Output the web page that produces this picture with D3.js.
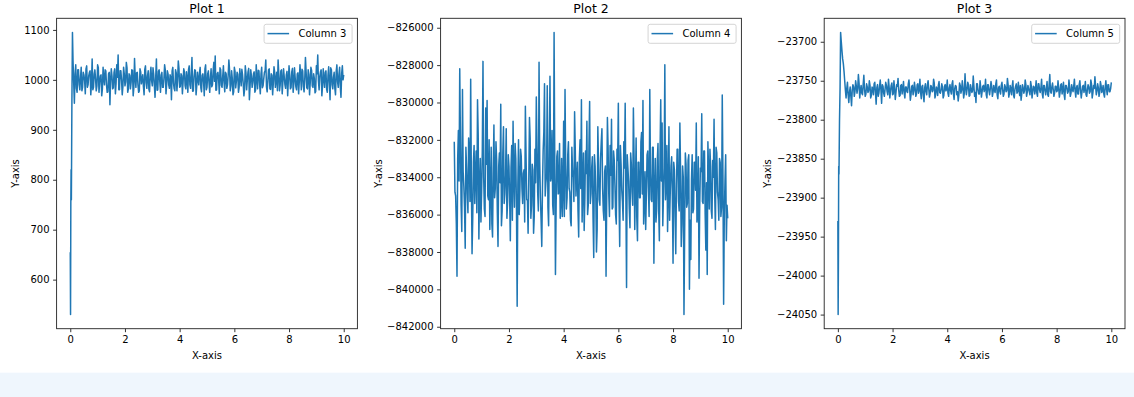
<!DOCTYPE html>
<html>
<head>
<meta charset="utf-8">
<script src="https://cdn.jsdelivr.net/npm/d3@7"></script>
<style>
  body { margin: 0; background: #fff; }
  svg { display: block; font-family: "DejaVu Sans", sans-serif; }
</style>
</head>
<body>
<svg width="1134" height="397"></svg>
<script>
// x positions: fine steps during the start-up transient, then every 0.05,
// plus "mid" samples that sit halfway between the regular ones
const headX = [0, 0.01, 0.02, 0.03, 0.04, 0.06, 0.08];
const xStep = 0.05;

const titles = ["Plot 1", "Plot 2", "Plot 3"];
const seriesNames = ["Column 3", "Column 4", "Column 5"];

// Column 3: head values at headX, then body from x = 0.10
const col3Head = [655, 530, 750, 820, 760, 960, 1095];
const col3Body = [
  1040, 953, 1030, 975, 1020, 980, 1025, 985, 1010, 972,
  1028, 990, 1015, 970, 1042, 985, 1020, 978, 1030, 975,
  1008, 968, 1025, 990, 1018, 975, 1012, 950, 1022, 982,
  1015, 972, 1030, 1050, 980, 1018, 970, 1025, 988, 1035,
  975, 1012, 982, 1020, 968, 1043, 985, 1015, 975, 1022,
  992, 1010, 970, 1028, 983, 1018, 976, 1025, 988, 1012,
  965, 1042, 980, 1020, 975, 1015, 985, 1030, 972, 1018,
  990, 1010, 960, 1025, 982, 1020, 978, 1038, 985, 1012,
  972, 1022, 988, 1016, 975, 1028, 983, 1045, 978, 1020,
  970, 1015, 990, 1025, 976, 1012, 968, 1030, 985, 1018,
  975, 1022, 990, 1035, 1048, 980, 1015, 972, 1020, 985,
  1028, 976, 1012, 990, 1040, 978, 1018, 970, 1025, 984,
  1015, 975, 1022, 988, 1010, 968, 1028, 980, 1016, 960,
  1020, 985, 1012, 975, 1030, 982, 1018, 972, 1025, 988,
  1015, 1040, 976, 1020, 982, 1012, 970, 1026, 985, 1015,
  1040, 978, 1018, 972, 1022, 990, 1010, 968, 1028, 982,
  1016, 975, 1024, 986, 1012, 972, 1030, 980, 1018, 976,
  1045, 984, 1020, 970, 1025, 988, 1012, 974, 1028, 1050,
  980, 1016, 968, 1022, 985, 1018, 975, 1026, 960, 1020,
  982, 1015, 970, 1030, 985, 1025, 965, 1028, 1010
];
// Column 3 mid samples from x = 0.125
const col3Mid = [
  995, 1012, 983, 1020, 990, 1005, 978, 1015, 998, 1022,
  985, 1008, 1018, 992, 980, 1012, 1002, 988, 1025, 995,
  1010, 982, 1003, 1020, 990, 976, 1015, 999, 1008, 984,
  1022, 993, 1005, 980, 1018, 1000, 987, 1012, 996, 1024,
  982, 1009, 995, 1019, 985, 1004, 1014, 990, 978, 1016,
  1001, 987, 1021, 994, 1008, 981, 1013, 998, 1024, 989,
  1006, 979, 1017, 996, 1010, 985, 1002, 1020, 991, 1012,
  983, 1005, 1018, 993, 978, 1014, 999, 1023, 987, 1008,
  995, 1016, 982, 1003, 1021, 990, 1011, 977, 1006, 1019,
  988, 1000, 1015, 984, 1009, 996, 1022, 980, 1012, 993,
  1004, 986, 1018, 997, 979, 1013, 1001, 1024, 989, 1007,
  994, 1015, 983, 1010, 1020, 988, 1003, 976, 1017, 998,
  1011, 985, 1005, 1021, 992, 981, 1014, 1000, 1023, 987,
  1008, 995, 1016, 979, 1004, 1019, 990, 1012, 984, 1002,
  1018, 986, 997, 1022, 981, 1009, 993, 1015, 1001, 978,
  1013, 989, 1020, 996, 1006, 983, 1017, 999, 1010, 985,
  1023, 992, 1004, 980, 1014, 997, 1008, 1021, 987, 1001,
  1016, 982, 1011, 994, 1019, 985, 1003, 977, 1012, 998,
  1007, 1020, 988, 1002, 1015, 981, 1009, 995, 1024, 990,
  1005, 983, 1017, 996, 1011, 986, 1013, 1000
];

// Column 4: every 0.05 from x = 0
const col4 = [
  -832100, -835000, -839300, -831500, -828200, -835500, -829300, -834500, -837800, -833500,
  -835900, -832800, -828750, -838100, -833200, -835400, -832600, -829850, -837300, -833000,
  -834800, -827800, -835700, -830300, -829900, -835200, -836800, -832400, -837200, -831200,
  -834600, -833100, -837700, -832700, -830100, -835800, -831300, -834900, -831400, -835300,
  -833400, -837400, -832300, -831000, -835600, -833000, -840900, -832000, -834700, -832900,
  -835400, -833600, -830200, -835200, -837000, -830800, -836200, -833300, -837000, -832500,
  -829700, -834800, -827850, -835100, -837700, -832600, -829000, -834300, -829100, -836600,
  -828600, -833900, -835500, -826250, -839200, -832900, -834900, -832200, -835300, -836100,
  -831000, -829300, -835700, -832800, -834600, -836300, -832400, -834000, -830500, -835000,
  -833200, -837200, -832000, -829860, -834400, -836850, -832600, -831000, -835500, -829950,
  -834900, -832900, -838300, -833400, -838000, -831300, -835200, -833000, -831400, -835800,
  -833700, -839300, -830800, -834900, -832300, -830900, -835600, -833100, -836000, -832500,
  -830040, -837700, -833300, -835300, -832100, -830040, -839900, -833500, -835700, -832700,
  -834800, -830300, -836800, -831900, -837400, -833200, -835100, -831600, -829900, -835400,
  -836800, -832800, -834600, -829300, -835200, -832400, -838600, -833000, -835800, -832200,
  -837400, -829860, -831100, -835000, -827980, -834300, -836900, -831300, -834700, -832900,
  -838600, -833600, -838100, -832500, -835300, -831100, -837700, -833400, -841350, -832700,
  -835600, -833100, -840000, -838400, -832800, -835700, -833200, -831100, -836000, -839400,
  -833500, -830600, -835400, -832600, -837900, -839200, -833700, -832500, -835800, -833100,
  -830900, -836800, -832700, -835200, -833000, -836100, -829600, -840800, -834200, -837400,
  -836200
];
// Column 4 mid samples from x = 0.025
const col4Mid = [
  -834800, -836500, -833000, -834200, -831800, -836900, -833700, -835600, -832400, -834900,
  -831900, -835300, -834100, -836200, -832300, -833800, -835900, -831700, -834500, -836400,
  -832600, -834000, -836100, -833300, -835000, -832000, -834700, -836500, -833600, -835100,
  -832100, -835900, -833400, -834300, -836600, -832700, -835400, -833900, -836200, -832800,
  -835100, -833500, -836300, -834000, -832200, -835700, -834400, -836000, -832500, -834600,
  -833800, -836400, -832900, -835200, -834100, -831900, -835500, -833600, -836100, -834300,
  -832400, -835800, -833200, -836300, -834600, -831600, -835000, -833900, -835600, -832300,
  -834200, -831500, -836000, -833100, -835500, -832600, -834800, -836200, -833000, -834700,
  -836100, -833400, -835100, -832100, -834800, -836600, -833600, -835300, -832500, -834100,
  -835800, -833000, -834600, -836400, -832700, -835200, -833800, -836000, -832300, -835400,
  -833500, -836200, -832800, -834900, -836800, -833300, -835500, -832100, -834600, -836300,
  -833400, -835000, -832400, -836100, -833900, -835700, -832600, -834400, -836500, -833100,
  -835200, -832300, -834700, -836300, -833500, -835000, -832800, -834200, -836700, -833300,
  -835500, -832900, -834500, -836200, -833200, -835100, -832100, -834900, -836500, -833700,
  -834900, -832600, -836100, -833800, -835300, -832400, -834700, -836400, -833100, -835700,
  -832700, -834200, -836600, -833500, -835200, -832300, -834900, -836300, -833400, -835000,
  -833200, -836100, -834400, -832500, -835800, -833600, -836500, -834000, -836900, -833300,
  -835400, -832800, -836300, -834100, -835900, -833200, -834700, -836400, -832900, -835600,
  -833700, -835300, -832600, -836000, -834300, -832100, -835700, -833400, -836200, -834000,
  -835000, -832400, -834800, -836300, -833200, -835600, -833900, -836000, -832800, -835500
];

// Column 5: head values at headX, then body from x = 0.10
const col5Head = [-23930, -24050, -23980, -23860, -23870, -23800, -23760];
const col5Body = [
  -23688, -23712, -23728, -23750, -23772, -23752, -23778, -23758, -23782, -23755,
  -23770, -23750, -23766, -23742, -23772, -23756, -23768, -23743, -23770, -23754,
  -23765, -23750, -23772, -23758, -23768, -23752, -23780, -23755, -23766, -23749,
  -23779, -23757, -23770, -23752, -23764, -23748, -23772, -23756, -23768, -23750,
  -23774, -23755, -23747, -23770, -23756, -23767, -23751, -23772, -23758, -23765,
  -23749, -23775, -23757, -23768, -23752, -23770, -23755, -23766, -23748, -23773,
  -23756, -23777, -23754, -23768, -23750, -23771, -23756, -23764, -23748, -23772,
  -23758, -23769, -23751, -23766, -23754, -23772, -23757, -23763, -23749, -23770,
  -23755, -23767, -23750, -23774, -23756, -23768, -23776, -23753, -23766, -23750,
  -23772, -23741, -23768, -23752, -23770, -23755, -23765, -23744, -23770, -23778,
  -23754, -23767, -23750, -23771, -23757, -23764, -23748, -23772, -23755, -23768,
  -23751, -23770, -23756, -23765, -23749, -23773, -23757, -23767, -23752, -23770,
  -23755, -23764, -23747, -23771, -23756, -23768, -23750, -23772, -23757, -23766,
  -23752, -23769, -23775, -23755, -23766, -23749, -23770, -23756, -23764, -23751,
  -23772, -23757, -23767, -23750, -23770, -23754, -23765, -23748, -23772, -23756,
  -23768, -23751, -23770, -23742, -23766, -23753, -23770, -23757, -23764, -23750,
  -23771, -23755, -23767, -23752, -23774, -23756, -23766, -23749, -23770, -23755,
  -23764, -23748, -23771, -23756, -23767, -23750, -23772, -23757, -23765, -23751,
  -23770, -23755, -23766, -23749, -23772, -23756, -23745, -23768, -23754, -23770,
  -23751, -23765, -23756, -23771, -23750, -23768, -23755, -23764, -23752
];
// Column 5 mid samples from x = 0.125
const col5Mid = [
  -23700, -23722, -23738, -23762, -23760, -23768, -23765, -23770, -23762, -23758,
  -23764, -23757, -23760, -23753, -23762, -23766, -23755, -23761, -23767, -23758,
  -23763, -23756, -23769, -23760, -23754, -23765, -23759, -23770, -23757, -23762,
  -23755, -23766, -23761, -23756, -23768, -23758, -23763, -23753, -23767, -23760,
  -23765, -23757, -23762, -23769, -23755, -23760, -23766, -23758, -23764, -23754,
  -23761, -23768, -23756, -23763, -23759, -23767, -23754, -23762, -23765, -23757,
  -23769, -23759, -23764, -23755, -23761, -23766, -23758, -23763, -23753, -23768,
  -23760, -23756, -23765, -23762, -23758, -23769, -23755, -23761, -23766, -23759,
  -23763, -23754, -23767, -23760, -23757, -23764, -23768, -23756, -23762, -23759,
  -23766, -23758, -23761, -23755, -23769, -23760, -23763, -23757, -23765, -23754,
  -23762, -23767, -23759, -23764, -23756, -23761, -23768, -23755, -23763, -23760,
  -23757, -23765, -23762, -23754, -23768, -23759, -23764, -23756, -23761, -23767,
  -23758, -23763, -23755, -23766, -23760, -23757, -23769, -23761, -23754, -23764,
  -23762, -23756, -23767, -23759, -23763, -23755, -23765, -23760, -23768, -23757,
  -23764, -23758, -23761, -23766, -23754, -23762, -23759, -23767, -23756, -23763,
  -23760, -23768, -23755, -23764, -23758, -23761, -23766, -23757, -23763, -23759,
  -23765, -23754, -23762, -23768, -23756, -23760, -23764, -23758, -23766, -23761,
  -23757, -23763, -23759, -23767, -23755, -23762, -23765, -23756, -23760, -23768,
  -23761, -23758, -23764, -23754, -23766, -23760, -23757, -23763, -23759, -23765,
  -23756, -23762, -23767, -23758, -23761, -23755, -23764, -23760
];

const xTicks = [0, 2, 4, 6, 8, 10];
const yTicks1 = [600, 700, 800, 900, 1000, 1100];
const yTicks2 = [-842000, -840000, -838000, -836000, -834000, -832000, -830000, -828000, -826000];
const yTicks3 = [-24050, -24000, -23950, -23900, -23850, -23800, -23750, -23700];

function points(values, x0) {
  return values.map((v, i) => ({x: x0 + i * xStep, y: v}));
}
function series(head, body, mid, bodyStart, midStart) {
  const pts = headX.slice(0, head.length).map((x, i) => ({x, y: head[i]}))
    .concat(points(body, bodyStart), points(mid, midStart));
  return pts.sort((a, b) => a.x - b.x);
}

const panels = [
  {data: series(col3Head, col3Body, col3Mid, 0.1, 0.125), yTicks: yTicks1},
  {data: series([], col4, col4Mid, 0, 0.025), yTicks: yTicks2},
  {data: series(col5Head, col5Body, col5Mid, 0.1, 0.125), yTicks: yTicks3}
];

const svg = d3.select("svg");
const lefts = [56.6, 440.6, 824.2];
const plotTop = 18.3, plotW = 300.8, plotH = 310.4;

// pale strip along the bottom of the page
svg.append("rect")
  .attr("x", 0).attr("y", 372.7)
  .attr("width", 1134).attr("height", 30)
  .attr("fill", "#eff6fd");

panels.forEach((p, k) => {
  const g = svg.append("g").attr("transform", `translate(${lefts[k]},${plotTop})`);

  // matplotlib-style 5% margins
  const xExt = d3.extent(p.data, d => d.x);
  const yExt = d3.extent(p.data, d => d.y);
  const xPad = (xExt[1] - xExt[0]) * 0.05;
  const yPad = (yExt[1] - yExt[0]) * 0.05;
  const x = d3.scaleLinear().domain([xExt[0] - xPad, xExt[1] + xPad]).range([0, plotW]);
  const y = d3.scaleLinear().domain([yExt[0] - yPad, yExt[1] + yPad]).range([plotH, 0]);

  g.append("clipPath").attr("id", "clip" + k)
    .append("rect").attr("width", plotW).attr("height", plotH);

  g.append("path")
    .datum(p.data)
    .attr("clip-path", `url(#clip${k})`)
    .attr("fill", "none")
    .attr("stroke", "#1f77b4")
    .attr("stroke-width", 1.5)
    .attr("stroke-linejoin", "round")
    .attr("d", d3.line().x(d => x(d.x)).y(d => y(d.y)));

  const xAxis = g.append("g")
    .attr("transform", `translate(0,${plotH})`)
    .call(d3.axisBottom(x).tickValues(xTicks).tickFormat(d3.format("d"))
      .tickSize(3.5).tickSizeOuter(0).tickPadding(3.5));
  const yAxis = g.append("g")
    .call(d3.axisLeft(y).tickValues(p.yTicks).tickFormat(d3.format("d"))
      .tickSize(3.5).tickSizeOuter(0).tickPadding(3.5));

  [xAxis, yAxis].forEach(a => {
    a.select(".domain").remove();
    a.selectAll("text").attr("font-size", 10).attr("fill", "#000")
      .attr("font-family", "DejaVu Sans, sans-serif");
    a.selectAll("line").attr("stroke", "#000").attr("stroke-width", 0.8);
  });

  // spines
  g.append("rect")
    .attr("width", plotW).attr("height", plotH)
    .attr("fill", "none").attr("stroke", "#222").attr("stroke-width", 0.9);

  g.append("text")
    .attr("x", plotW / 2).attr("y", -5)
    .attr("text-anchor", "middle").attr("font-size", 12.5)
    .text(titles[k]);

  g.append("text")
    .attr("x", plotW / 2).attr("y", plotH + 30.6)
    .attr("text-anchor", "middle").attr("font-size", 10)
    .text("X-axis");

  const yb = yAxis.node().getBBox();
  g.append("text")
    .attr("transform", `translate(${yb.x - 5.5},${plotH / 2}) rotate(-90)`)
    .attr("text-anchor", "middle").attr("font-size", 10)
    .text("Y-axis");

  // legend, upper right
  const lg = g.append("g").attr("transform", `translate(${plotW - 5.3 - 88},6)`);
  lg.append("rect")
    .attr("width", 88).attr("height", 19).attr("rx", 2)
    .attr("fill", "#fff").attr("stroke", "#d0d0d0").attr("stroke-width", 0.9);
  lg.append("line")
    .attr("x1", 3.4).attr("x2", 25).attr("y1", 9.3).attr("y2", 9.3)
    .attr("stroke", "#1f77b4").attr("stroke-width", 1.5);
  lg.append("text")
    .attr("x", 34.4).attr("y", 13)
    .attr("font-size", 10)
    .text(seriesNames[k]);
});
</script>
</body>
</html>
